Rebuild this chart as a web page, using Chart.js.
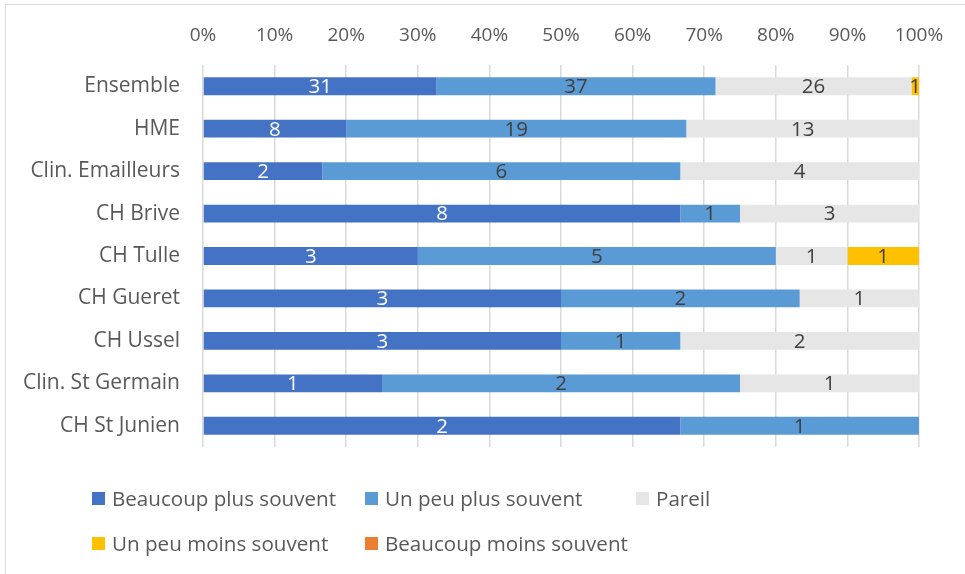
<!DOCTYPE html>
<html>
<head>
<meta charset="utf-8">
<script src="https://cdn.jsdelivr.net/npm/chart.js@4.4.1/dist/chart.umd.min.js"></script>
<style>
  body { margin: 0; background: #fff; }
  #wrap { position: relative; width: 965px; height: 574px; overflow: hidden; font-family: "Open Sans", sans-serif; }
  #frame { position: absolute; left: 5px; top: 4px; width: 1000px; height: 600px; border-top: 1px solid #d9d9d9; border-left: 1px solid #d9d9d9; }
  #my-chart { position: absolute; left: 0; top: 0; }
  .leg { position: absolute; font-size: 20.6px; color: #595959; white-space: nowrap; line-height: 20px; }
  .leg span { position: absolute; left: 0; top: 4px; width: 13px; height: 13px; }
</style>
</head>
<body>
<div id="wrap">
  <div id="frame"></div>
  <canvas id="my-chart" width="965" height="574"></canvas>
</div>
<script>
const categories = ['Ensemble', 'HME', 'Clin. Emailleurs', 'CH Brive', 'CH Tulle', 'CH Gueret', 'CH Ussel', 'Clin. St Germain', 'CH St Junien'];
const seriesNames = ['Beaucoup plus souvent', 'Un peu plus souvent', 'Pareil', 'Un peu moins souvent', 'Beaucoup moins souvent'];
const beaucoupPlus = [31, 8, 2, 8, 3, 3, 3, 1, 2];
const unPeuPlus = [37, 19, 6, 1, 5, 2, 1, 2, 1];
const pareil = [26, 13, 4, 3, 1, 1, 2, 1, 0];
const unPeuMoins = [1, 0, 0, 0, 1, 0, 0, 0, 0];
const beaucoupMoins = [0, 0, 0, 0, 0, 0, 0, 0, 0];
const tickLabels = ['0%', '10%', '20%', '30%', '40%', '50%', '60%', '70%', '80%', '90%', '100%'];
const colors = ['#4472c4', '#5b9bd5', '#e6e6e6', '#ffc000', '#ed7d31'];

const counts = [beaucoupPlus, unPeuPlus, pareil, unPeuMoins, beaucoupMoins];
const totals = categories.map((c, i) => counts.reduce((s, arr) => s + arr[i], 0));

const datasets = counts.map((arr, k) => ({
    label: seriesNames[k],
    data: arr.map((v, i) => v / totals[i] * 100),
    counts: arr,
    backgroundColor: colors[k],
    borderWidth: 0,
    categoryPercentage: 1,
    barPercentage: 0.42
}));

// etiquettes dans les barres
const valueLabels = {
    id: 'valueLabels',
    afterDatasetsDraw(chart) {
        const c = chart.ctx;
        c.save();
        c.font = '20.5px "Open Sans"';
        c.textAlign = 'center';
        c.textBaseline = 'middle';
        chart.data.datasets.forEach((ds, k) => {
            const meta = chart.getDatasetMeta(k);
            meta.data.forEach((bar, i) => {
                const v = ds.counts[i];
                if (!v) return;
                const p = bar.getCenterPoint();
                c.fillStyle = k === 0 ? '#ffffff' : '#404040';
                c.fillText(String(v), p.x, p.y + 1);
            });
        });
        c.restore();
    }
};

const ctx = document.getElementById('my-chart');
const chart = new Chart(ctx, {
    type: 'bar',
    data: { labels: categories, datasets: datasets },
    options: {
        indexAxis: 'y',
        responsive: false,
        animation: false,
        layout: { padding: { left: 0, right: 46, top: 0, bottom: 127 } },
        plugins: { legend: { display: false }, tooltip: { enabled: false } },
        scales: {
            x: {
                position: 'top',
                stacked: true,
                min: 0,
                max: 100,
                border: { display: false },
                grid: { color: '#d9d9d9', lineWidth: 1.5, drawTicks: false },
                ticks: {
                    stepSize: 10,
                    padding: 18,
                    color: '#595959',
                    font: { family: 'Open Sans', size: 19 },
                    callback: (v, i) => tickLabels[i]
                },
                afterFit: (s) => { s.height = 65; }
            },
            y: {
                stacked: true,
                border: { display: false },
                grid: { display: false, drawTicks: false },
                ticks: {
                    padding: 23,
                    color: '#595959',
                    font: { family: 'Open Sans', size: 21 }
                },
                afterFit: (s) => { s.width = 203; }
            }
        }
    },
    plugins: [valueLabels]
});

// legende
const legendPos = [[92, 499], [365, 499], [636, 499], [92, 544], [365, 544]];
const wrap = document.getElementById('wrap');
seriesNames.forEach((name, k) => {
    const d = document.createElement('div');
    d.className = 'leg';
    d.style.left = legendPos[k][0] + 'px';
    d.style.top = (legendPos[k][1] - 11) + 'px';
    d.style.paddingLeft = '20px';
    d.innerHTML = '<span style="background:' + colors[k] + '"></span>' + name;
    wrap.appendChild(d);
});
</script>
</body>
</html>
